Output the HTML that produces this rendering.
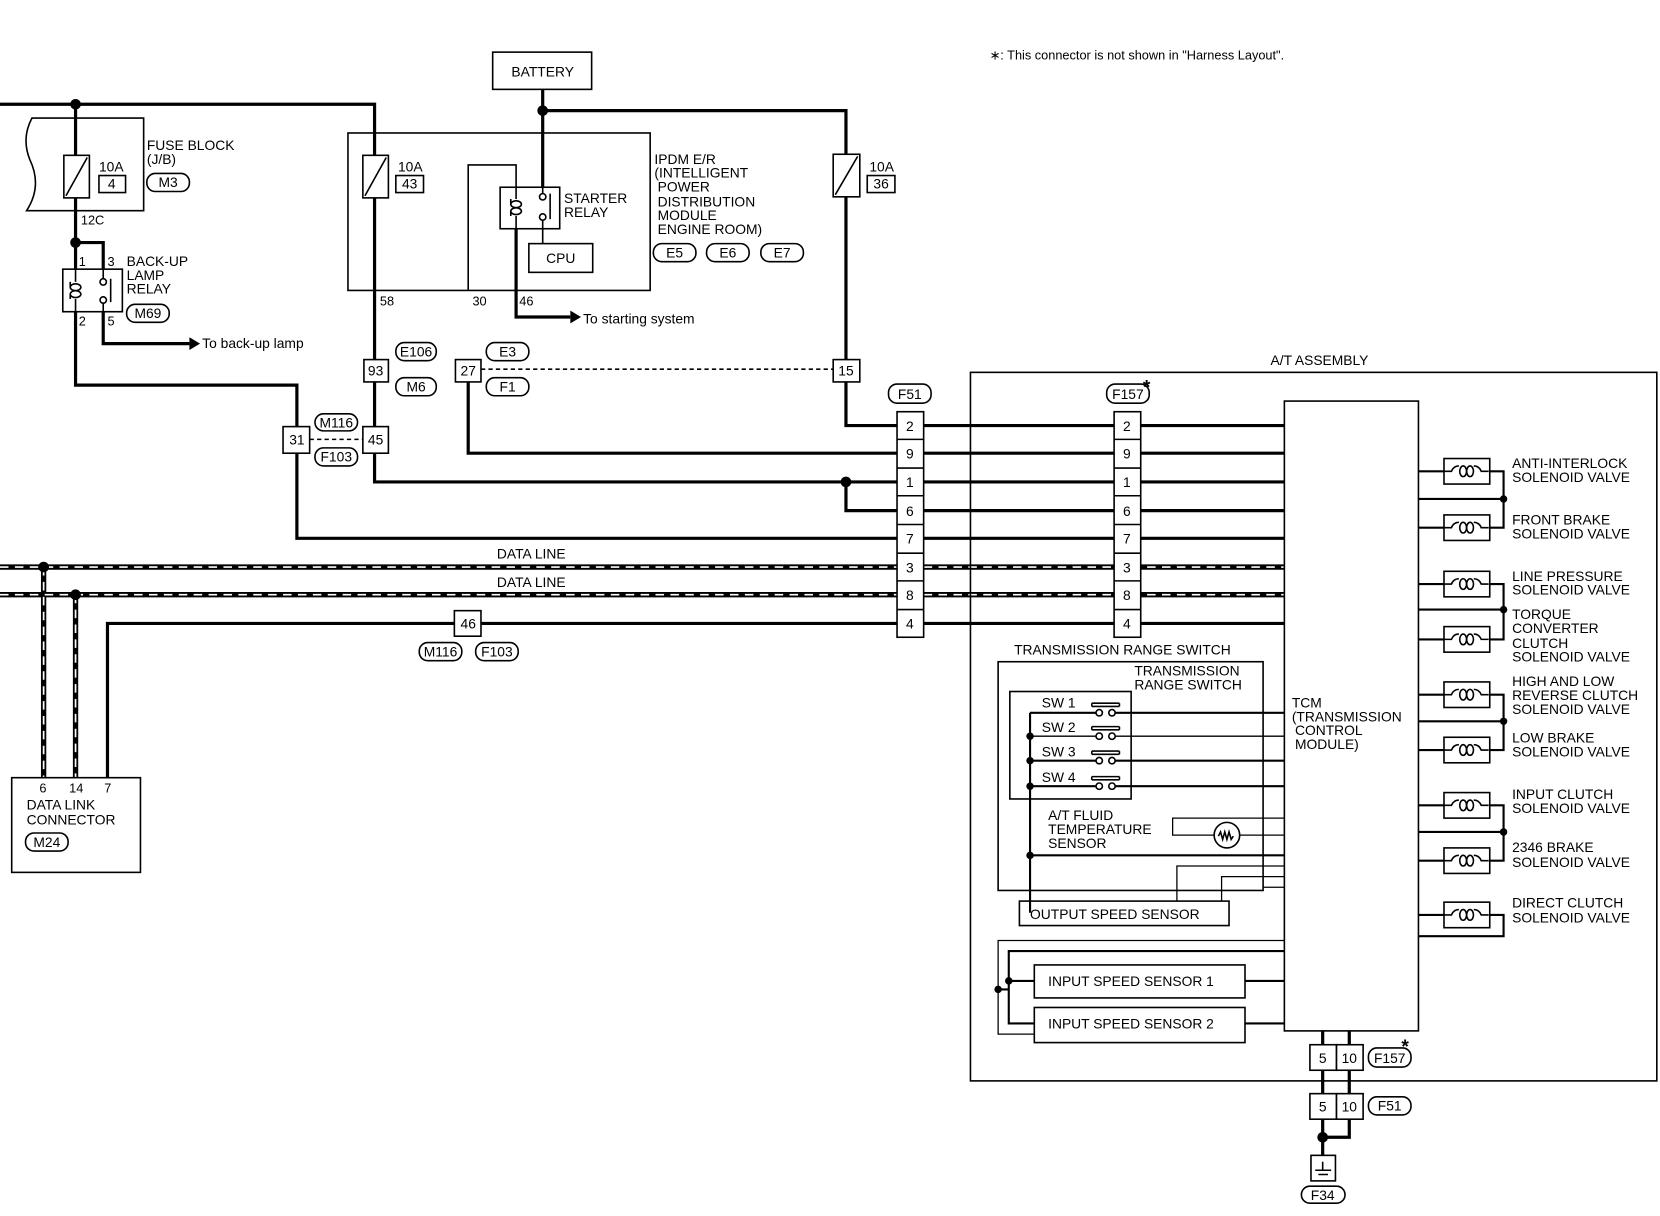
<!DOCTYPE html>
<html><head><meta charset="utf-8"><style>
html,body{margin:0;padding:0;background:#fff}
svg{display:block}
text{font-family:"Liberation Sans",sans-serif;font-size:13px;fill:#000}
text.s{font-size:12px}
text.ast{font-size:18px;font-weight:bold}
</style></head><body>
<svg width="1660" height="1216" viewBox="0 0 1560 1143" preserveAspectRatio="none" xmlns="http://www.w3.org/2000/svg">
<defs>
<g id="coil" fill="none" stroke="#000" stroke-width="1.5"><path d="M-21 0 H-14 Q-12 -5 -7 -5"/><ellipse cx="-3" cy="0" rx="3.2" ry="5"/><ellipse cx="3.5" cy="0" rx="3.2" ry="5"/><path d="M7 -5 Q12 -5 14 0 H21"/></g>
<g id="coilv" fill="none" stroke="#000" stroke-width="1.5"><ellipse cx="0" cy="-3" rx="5" ry="3.2"/><ellipse cx="0" cy="3.5" rx="5" ry="3.2"/><path d="M-5 -3 V-8 M-5 3.5 V8"/></g>
</defs>
<g fill="none" stroke="#000" stroke-width="3">
<path d="M0 98 H352 V338"/>
<path d="M71 98 V253"/>
<path d="M71 228 H97 V253"/>
<path d="M97 293 V323 H178"/>
<path d="M71 293 V362 H279 V401"/>
<path d="M279 426 V506 H843"/>
<path d="M352 358 V401"/>
<path d="M352 426 V453 H843"/>
<path d="M795 453 V480 H843"/>
<path d="M510 84 V176"/>
<path d="M510 104 H795 V338"/>
<path d="M795 358 V400 H843"/>
<path d="M440 358 V426 H843"/>
<path d="M485 215 V298 H536"/>
<path d="M101 731 V586 H843"/>
<path d="M868 400 H1047 M868 426 H1047 M868 453 H1047 M868 480 H1047 M868 506 H1047 M868 586 H1047"/>
<path d="M1072 400 H1207 M1072 426 H1207 M1072 453 H1207 M1072 480 H1207 M1072 506 H1207 M1072 586 H1207"/>
<path d="M1243 969 V1069 M1268 969 V1069 H1243 V1086"/>
</g>
<g fill="none" stroke="#000" stroke-width="1.5">
<path d="M440 273 V155 H485 V176"/>
<path d="M510 215 V229"/>
</g>
<g fill="none">
<path d="M0 533 H1207 M0 559 H1207 M41 533 V731 M71 559 V731" stroke="#000" stroke-width="5"/>
<path d="M0 533 H1207 M0 559 H1207 M41 533 V731 M71 559 V731" stroke="#fff" stroke-width="1.6" stroke-dasharray="8 6"/>
</g>
<path d="M178 317 L188 323 L178 329 Z"/>
<path d="M536 292 L546 298 L536 304 Z"/>
<g>
<circle cx="71" cy="98" r="5"/><circle cx="71" cy="228" r="5"/><circle cx="510" cy="104" r="5"/>
<circle cx="795" cy="453" r="5"/><circle cx="41" cy="533" r="5"/><circle cx="71" cy="559" r="5"/>
<circle cx="1243" cy="1069" r="5"/>
</g>
<g fill="#fff" stroke="#000" stroke-width="1.5">
<rect x="463" y="49" width="93" height="35"/>
<path d="M135 111 H30 Q20 130 28 150 Q40 175 25 198 H135 Z" fill="none"/>
<rect x="60" y="146" width="24" height="40"/>
<rect x="93" y="165" width="25" height="16"/>
<rect x="327" y="125" width="284" height="148" fill="none"/>
<rect x="341" y="146" width="24" height="40"/>
<rect x="372" y="165" width="26" height="16"/>
<rect x="783" y="145" width="25" height="40"/>
<rect x="815" y="165" width="26" height="16"/>
<rect x="59" y="253" width="56" height="40"/>
<rect x="470" y="176" width="56" height="39"/>
<rect x="497" y="229" width="60" height="27"/>
<rect x="342" y="338" width="23" height="21"/>
<rect x="428" y="338" width="24" height="21"/>
<rect x="783" y="338" width="25" height="21"/>
<rect x="266" y="401" width="25" height="25"/>
<rect x="341" y="401" width="24" height="25"/>
<rect x="427" y="574" width="25" height="24"/>
<rect x="11" y="731" width="121" height="89"/>
<rect x="912" y="350" width="645" height="666" fill="none"/>
<rect x="1207" y="377" width="126" height="592"/>
<rect x="938" y="622" width="249" height="215" fill="none"/>
<rect x="949" y="650" width="114" height="101" fill="none"/>
<rect x="958" y="847" width="197" height="23"/>
<rect x="972" y="907" width="198" height="31"/>
<rect x="972" y="947" width="198" height="33"/>
<rect x="1231" y="982" width="25" height="24"/><rect x="1256" y="982" width="25" height="24"/>
<rect x="1231" y="1028" width="25" height="24"/><rect x="1256" y="1028" width="25" height="24"/>
<rect x="1232" y="1086" width="23" height="24"/>
</g>
<g stroke="#000" stroke-width="1.5" fill="none">
<path d="M62 184 L82 148 M343 184 L363 148 M785 183 L806 147"/>
<path d="M452 347 H783 M291 413 H341" stroke-dasharray="4 3"/>
<path d="M1236 1100 H1251 M1239 1104 H1248 M1243 1092 V1100"/>
<path d="M71 253 V265 M71 281 V293"/>
<path d="M97 253 V262 M97 284 V293 M104 262 V284"/>
<circle cx="97" cy="265" r="3" fill="#fff"/><circle cx="97" cy="282" r="3" fill="#fff"/>
<path d="M510 176 V182 M510 207 V215 M517 182 V206"/>
<circle cx="510" cy="185" r="3" fill="#fff"/><circle cx="510" cy="204" r="3" fill="#fff"/>
<path d="M485 176 V187 M485 203 V215"/>
</g>
<g transform="translate(71,273)"><use href="#coilv"/></g>
<g transform="translate(485,195)"><use href="#coilv"/></g>
<g fill="#fff" stroke="#000" stroke-width="1.5">
<rect x="843" y="387" width="25" height="212"/><rect x="1047" y="387" width="25" height="212"/>
</g>
<g stroke="#000" stroke-width="1.5">
<path d="M843 413 H868 M843 440 H868 M843 466 H868 M843 493 H868 M843 520 H868 M843 546 H868 M843 573 H868"/>
<path d="M1047 413 H1072 M1047 440 H1072 M1047 466 H1072 M1047 493 H1072 M1047 520 H1072 M1047 546 H1072 M1047 573 H1072"/>
</g>
<g text-anchor="middle">
<text x="855" y="405">2</text><text x="855" y="431">9</text><text x="855" y="458">1</text><text x="855" y="485">6</text><text x="855" y="511">7</text><text x="855" y="538">3</text><text x="855" y="564">8</text><text x="855" y="591">4</text>
<text x="1059" y="405">2</text><text x="1059" y="431">9</text><text x="1059" y="458">1</text><text x="1059" y="485">6</text><text x="1059" y="511">7</text><text x="1059" y="538">3</text><text x="1059" y="564">8</text><text x="1059" y="591">4</text>
<text x="105" y="177">4</text><text x="385" y="177">43</text><text x="828" y="177">36</text>
<text x="353" y="353">93</text><text x="440" y="353">27</text><text x="795" y="353">15</text>
<text x="279" y="418">31</text><text x="353" y="418">45</text><text x="440" y="591">46</text>
<text x="1243" y="999">5</text><text x="1268" y="999">10</text><text x="1243" y="1045">5</text><text x="1268" y="1045">10</text>
<text x="510" y="72">BATTERY</text><text x="527" y="247">CPU</text>
<text x="1240" y="343">A/T ASSEMBLY</text>
</g>
<g fill="#fff" stroke="#000" stroke-width="1.5">
<rect x="138" y="163" width="40" height="17" rx="8"/>
<rect x="119" y="286" width="40" height="17" rx="8"/>
<rect x="614" y="229" width="40" height="17" rx="8"/><rect x="664" y="229" width="40" height="17" rx="8"/><rect x="715" y="229" width="40" height="17" rx="8"/>
<rect x="372" y="322" width="38" height="17" rx="8"/><rect x="372" y="355" width="38" height="17" rx="8"/>
<rect x="457" y="322" width="40" height="17" rx="8"/><rect x="457" y="355" width="40" height="17" rx="8"/>
<rect x="296" y="389" width="40" height="16" rx="8"/><rect x="296" y="421" width="40" height="17" rx="8"/>
<rect x="835" y="361" width="40" height="18" rx="8"/><rect x="1040" y="361" width="40" height="18" rx="8"/>
<rect x="394" y="604" width="40" height="17" rx="8"/><rect x="447" y="604" width="40" height="17" rx="8"/>
<rect x="24" y="783" width="40" height="17" rx="8"/>
<rect x="1286" y="985" width="40" height="18" rx="8"/><rect x="1286" y="1031" width="40" height="17" rx="8"/>
<rect x="1223" y="1115" width="41" height="16" rx="8"/>
</g>
<g text-anchor="middle">
<text x="158" y="176">M3</text><text x="139" y="299">M69</text>
<text x="634" y="242">E5</text><text x="684" y="242">E6</text><text x="735" y="242">E7</text>
<text x="391" y="335">E106</text><text x="391" y="368">M6</text>
<text x="477" y="335">E3</text><text x="477" y="368">F1</text>
<text x="316" y="402">M116</text><text x="316" y="434">F103</text>
<text x="855" y="375">F51</text><text x="1060" y="375">F157</text>
<text x="414" y="617">M116</text><text x="467" y="617">F103</text>
<text x="44" y="796">M24</text>
<text x="1306" y="999">F157</text><text x="1306" y="1044">F51</text><text x="1243" y="1128">F34</text>
</g>
<text class="ast" x="1074" y="370">*</text><text class="ast" x="1317" y="990">*</text>
<text x="930" y="56" class="s">∗: This connector is not shown in "Harness Layout".</text>
<text x="93" y="161">10A</text><text x="374" y="161">10A</text><text x="817" y="161">10A</text>
<text x="138" y="141">FUSE BLOCK</text><text x="138" y="154">(J/B)</text>
<text x="76" y="211" class="s">12C</text>
<text x="74" y="250" class="s">1</text><text x="101" y="250" class="s">3</text>
<text x="74" y="306" class="s">2</text><text x="101" y="306" class="s">5</text>
<text x="119" y="250">BACK-UP</text><text x="119" y="263">LAMP</text><text x="119" y="276">RELAY</text>
<text x="190" y="327">To back-up lamp</text>
<text x="548" y="304">To starting system</text>
<text x="357" y="287" class="s">58</text><text x="444" y="287" class="s">30</text><text x="488" y="287" class="s">46</text>
<text x="530" y="191">STARTER</text><text x="530" y="204">RELAY</text>
<text x="615" y="154">IPDM E/R</text><text x="615" y="167">(INTELLIGENT</text><text x="618" y="180">POWER</text><text x="618" y="194">DISTRIBUTION</text><text x="618" y="207">MODULE</text><text x="618" y="220">ENGINE ROOM)</text>
<text x="467" y="525">DATA LINE</text><text x="467" y="552">DATA LINE</text>
<text x="37" y="745" class="s">6</text><text x="65" y="745" class="s">14</text><text x="98" y="745" class="s">7</text>
<text x="25" y="761">DATA LINK</text><text x="25" y="775">CONNECTOR</text>
<text x="1214" y="665">TCM</text><text x="1214" y="678">(TRANSMISSION</text><text x="1217" y="691">CONTROL</text><text x="1217" y="704">MODULE)</text>
<g fill="none" stroke="#000" stroke-width="2">
<path d="M1333 443 H1357 M1400 443 H1413 V496 H1400 M1357 496 H1333 M1333 469 H1413"/>
<path d="M1333 549 H1357 M1400 549 H1413 V601 H1400 M1357 601 H1333 M1333 573 H1413"/>
<path d="M1333 653 H1357 M1400 653 H1413 V705 H1400 M1357 705 H1333 M1333 678 H1413"/>
<path d="M1333 757 H1357 M1400 757 H1413 V809 H1400 M1357 809 H1333 M1333 782 H1413"/>
<path d="M1333 860 H1357 M1400 860 H1413 V880 H1333"/>
</g>
<g fill="#fff" stroke="#000" stroke-width="1.5">
<rect x="1357" y="431" width="43" height="24"/><rect x="1357" y="484" width="43" height="24"/>
<rect x="1357" y="537" width="43" height="24"/><rect x="1357" y="589" width="43" height="24"/>
<rect x="1357" y="641" width="43" height="24"/><rect x="1357" y="693" width="43" height="24"/>
<rect x="1357" y="745" width="43" height="24"/><rect x="1357" y="797" width="43" height="24"/>
<rect x="1357" y="848" width="43" height="24"/>
</g>
<g transform="translate(1378,443)"><use href="#coil"/></g><g transform="translate(1378,496)"><use href="#coil"/></g>
<g transform="translate(1378,549)"><use href="#coil"/></g><g transform="translate(1378,601)"><use href="#coil"/></g>
<g transform="translate(1378,653)"><use href="#coil"/></g><g transform="translate(1378,705)"><use href="#coil"/></g>
<g transform="translate(1378,757)"><use href="#coil"/></g><g transform="translate(1378,809)"><use href="#coil"/></g>
<g transform="translate(1378,860)"><use href="#coil"/></g>
<g><circle cx="1413" cy="469" r="3.5"/><circle cx="1413" cy="573" r="3.5"/><circle cx="1413" cy="678" r="3.5"/><circle cx="1413" cy="782" r="3.5"/></g>
<g>
<text x="1421" y="440">ANTI-INTERLOCK</text><text x="1421" y="453">SOLENOID VALVE</text>
<text x="1421" y="493">FRONT BRAKE</text><text x="1421" y="506">SOLENOID VALVE</text>
<text x="1421" y="546">LINE PRESSURE</text><text x="1421" y="559">SOLENOID VALVE</text>
<text x="1421" y="582">TORQUE</text><text x="1421" y="595">CONVERTER</text><text x="1421" y="609">CLUTCH</text><text x="1421" y="622">SOLENOID VALVE</text>
<text x="1421" y="645">HIGH AND LOW</text><text x="1421" y="658">REVERSE CLUTCH</text><text x="1421" y="671">SOLENOID VALVE</text>
<text x="1421" y="698">LOW BRAKE</text><text x="1421" y="711">SOLENOID VALVE</text>
<text x="1421" y="751">INPUT CLUTCH</text><text x="1421" y="764">SOLENOID VALVE</text>
<text x="1421" y="801">2346 BRAKE</text><text x="1421" y="815">SOLENOID VALVE</text>
<text x="1421" y="853">DIRECT CLUTCH</text><text x="1421" y="867">SOLENOID VALVE</text>
</g>
<text x="953" y="615">TRANSMISSION RANGE SWITCH</text>
<text x="1066" y="635">TRANSMISSION</text><text x="1066" y="648">RANGE SWITCH</text>
<text x="979" y="665">SW 1</text><text x="979" y="688">SW 2</text><text x="979" y="711">SW 3</text><text x="979" y="735">SW 4</text>
<g fill="none" stroke="#000" stroke-width="2">
<path d="M968 670 V858"/>
<path d="M968 670 H1033 M1045 670 H1207"/>
<path d="M968 692 H1033 M1045 692 H1207" stroke-width="1.2"/>
<path d="M968 715 H1033 M1045 715 H1207"/>
<path d="M968 739 H1033 M1045 739 H1207"/>
<path d="M968 804 H1207"/>
<path d="M1207 769 H1102 V785 H1141 M1165 785 H1207" stroke-width="1.2"/>
<path d="M1106 847 V814 H1207 M1148 847 V824 H1207" stroke-width="1.2"/>
<path d="M1187 834 H1207" stroke-width="1.2"/>
<path d="M1207 884 H938 V972 H972" stroke-width="1.2"/>
<path d="M1207 894 H948 V962 H972 M938 930 H948 M948 922 H972"/>
<path d="M1170 922 H1207 M1170 962 H1207"/>
</g>
<g fill="#fff" stroke="#000" stroke-width="1.5">
<circle cx="1033" cy="670" r="3"/><circle cx="1045" cy="670" r="3"/><path d="M1026 664 H1052 M1026 661 H1052 M1026 661 V664 M1052 661 V664"/>
<circle cx="1033" cy="692" r="3"/><circle cx="1045" cy="692" r="3"/><path d="M1026 686 H1052 M1026 683 H1052 M1026 683 V686 M1052 683 V686"/>
<circle cx="1033" cy="715" r="3"/><circle cx="1045" cy="715" r="3"/><path d="M1026 709 H1052 M1026 706 H1052 M1026 706 V709 M1052 706 V709"/>
<circle cx="1033" cy="739" r="3"/><circle cx="1045" cy="739" r="3"/><path d="M1026 733 H1052 M1026 730 H1052 M1026 730 V733 M1052 730 V733"/>
<circle cx="1153" cy="785" r="12"/>
<path d="M1145 786 l2 -4 l2 7 l2 -7 l2 7 l2 -7 l2 7 l2 -3" fill="none"/>
</g>
<g><circle cx="968" cy="692" r="3.5"/><circle cx="968" cy="715" r="3.5"/><circle cx="968" cy="739" r="3.5"/><circle cx="968" cy="804" r="3.5"/><circle cx="948" cy="922" r="3.5"/><circle cx="938" cy="930" r="3.5"/></g>
<text x="985" y="771">A/T FLUID</text><text x="985" y="784">TEMPERATURE</text><text x="985" y="797">SENSOR</text>
<text x="968" y="864">OUTPUT SPEED SENSOR</text>
<text x="985" y="927">INPUT SPEED SENSOR 1</text>
<text x="985" y="967">INPUT SPEED SENSOR 2</text>
</svg>
</body></html>
